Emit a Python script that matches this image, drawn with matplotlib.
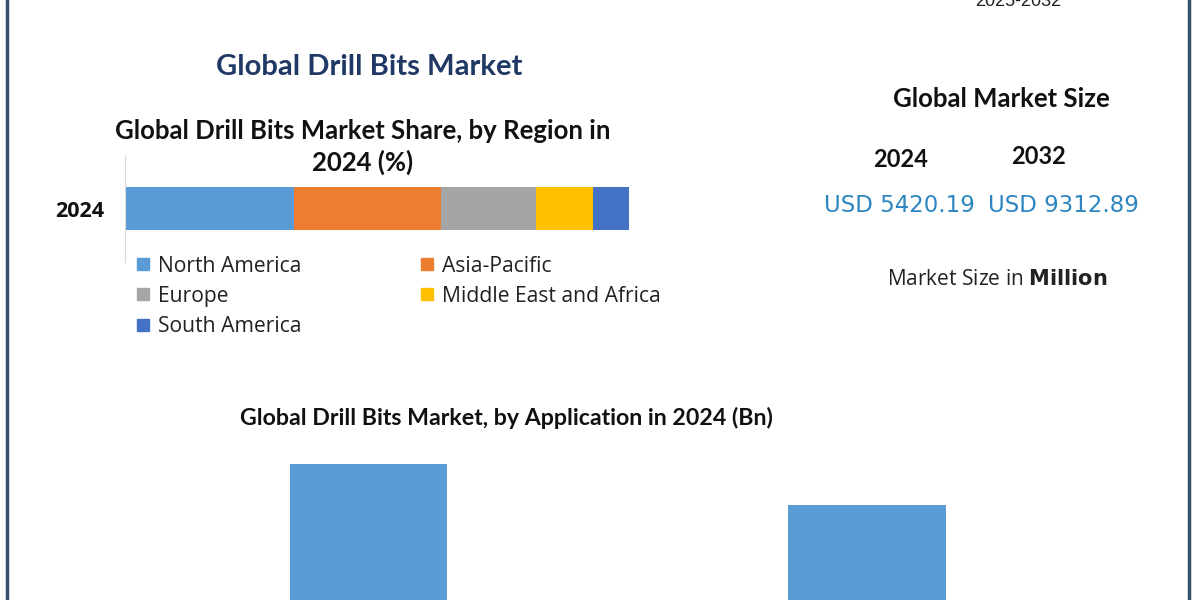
import matplotlib.pyplot as plt
from matplotlib.lines import Line2D

# данные
regions = ["North America", "Asia-Pacific", "Europe", "Middle East and Africa", "South America"]
region_share = [33.6, 29.0, 18.9, 11.3, 7.2]
region_colors = ["#5b9bd5", "#ed7d31", "#a5a5a5", "#ffc000", "#4472c4"]

applications = ["Onshore", "Offshore"]
app_values = [2.97, 2.45]

years = ["2024", "2032"]
market_size = ["USD 5420.19", "USD 9312.89"]

fig = plt.figure(figsize=(12, 6), dpi=100)
fig.patch.set_facecolor("white")

# рамка слева и справа
for xf in [7 / 1200, 1189 / 1200]:
    fig.add_artist(Line2D([xf, xf], [0, 1], color="#34506b", lw=2.5, transform=fig.transFigure))

HEAD = ["Lato", "DejaVu Sans"]
BODY = ["Open Sans", "DejaVu Sans"]

# заголовки
fig.text(369 / 1200, 1 - 67 / 600, "Global Drill Bits Market", ha="center", va="center",
         fontsize=21, fontweight="bold", color="#1f3864", family=HEAD)
fig.text(363 / 1200, 1 - 147 / 600, "Global Drill Bits Market Share, by Region in\n2024 (%)",
         ha="center", va="center", fontsize=18.5, fontweight="bold", color="#111111",
         family=HEAD, linespacing=1.3)
fig.text(1018 / 1200, 1 - 10 / 600, "2025-2032", ha="center", va="bottom", fontsize=13,
         color="#222222", family=["Liberation Sans"])

# горизонтальная накопленная полоса
ax1 = fig.add_axes([125 / 1200, 1 - 262 / 600, 504 / 1200, 107 / 600])
left = 0
for name, val, col in zip(regions, region_share, region_colors):
    ax1.barh(0, val, left=left, height=0.4, color=col, label=name)
    left += val
ax1.set_xlim(0, 100)
ax1.set_ylim(-0.5, 0.5)
ax1.set_xticks([])
ax1.set_yticks([])
for s in ["top", "right", "bottom"]:
    ax1.spines[s].set_visible(False)
ax1.spines["left"].set_color("#d9d9d9")
ax1.patch.set_alpha(0)
fig.text(80 / 1200, 1 - 212 / 600, "2024", ha="center", va="center", fontsize=15.5,
         fontweight="bold", color="#111111", family=BODY)

# легенда
leg_pos = [(143, 264), (427, 264), (143, 294), (427, 294), (143, 325)]
for (x, y), name, col in zip(leg_pos, regions, region_colors):
    fig.patches.append(plt.Rectangle(((x - 6) / 1200, 1 - (y + 6) / 600), 12 / 1200, 12 / 600,
                                     transform=fig.transFigure, color=col))
    fig.text((x + 15) / 1200, 1 - (y + 2) / 600, name, ha="left", va="center", fontsize=15.2,
             color="#222222", family=BODY)

# правая панель - размер рынка
fig.text(1001 / 1200, 1 - 99 / 600, "Global Market Size", ha="center", va="center",
         fontsize=18.5, fontweight="bold", color="#111111", family=HEAD)
for yr, xc, yy in zip(years, [901, 1039], [160, 156]):
    fig.text(xc / 1200, 1 - yy / 600, yr, ha="center", va="center", fontsize=17,
             fontweight="bold", color="#111111", family=HEAD)
for val, xc in zip(market_size, [899, 1063]):
    fig.text(xc / 1200, 1 - 206 / 600, val, ha="center", va="center", fontsize=16.5,
             color="#2e86c1", family=["DejaVu Sans"])
fig.text(997 / 1200, 1 - 279 / 600, "Market Size in $\\bf{Million}$", ha="center", va="center",
         fontsize=15, color="#222222", family=BODY)

# вертикальные столбцы по применению
fig.text(506 / 1200, 1 - 418 / 600, "Global Drill Bits Market, by Application in 2024 (Bn)",
         ha="center", va="center", fontsize=16.7, fontweight="bold", color="#111111",
         family=HEAD)
ax2 = fig.add_axes([119.25 / 1200, -100 / 600, 997 / 1200, 260 / 600])
ax2.bar(range(len(applications)), app_values, width=0.315, color="#5b9bd5")
ax2.set_xlim(-0.5, 1.5)
ax2.set_ylim(0, 3.272)
ax2.axis("off")

fig.savefig("out.png", dpi=100, facecolor="white")
